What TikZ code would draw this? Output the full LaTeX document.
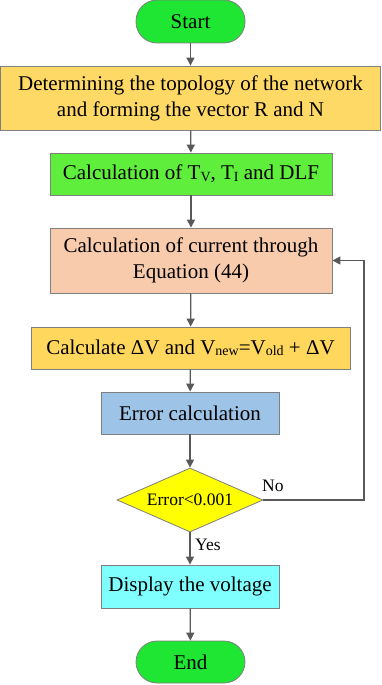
\documentclass[tikz,border=0pt]{standalone}
\usepackage{fontspec}
\setmainfont{Liberation Serif}
\usetikzlibrary{arrows.meta, shapes.geometric}
\definecolor{termgreen}{HTML}{1EE632}
\definecolor{stepgreen}{HTML}{5FEE3C}
\definecolor{topogold}{HTML}{FFD966}
\definecolor{currpink}{HTML}{F8CBAD}
\definecolor{dvgold}{HTML}{FFD75C}
\definecolor{errblue}{HTML}{9DC3E6}
\definecolor{decyellow}{HTML}{FFFF00}
\definecolor{dispcyan}{HTML}{80FFFF}
\definecolor{edgegray}{HTML}{7F7F7F}
\definecolor{flowgray}{HTML}{595959}
\newcommand{\lowsub}[1]{\raisebox{-1.5pt}{\fontsize{14}{14}\selectfont #1}}

\begin{document}
\begin{tikzpicture}[x=1pt, y=-1pt,
    box/.style={draw=edgegray, line width=0.8pt, inner sep=0pt, align=center,
        font=\fontsize{21}{26}\selectfont},
    term/.style={box, fill=termgreen, minimum width=109pt, rounded corners=21pt},
    flow/.style={draw=flowgray, line width=1.3pt, -{Triangle[length=8pt, width=8pt]}},
    lbl/.style={font=\fontsize{17.5}{20}\selectfont, inner sep=0pt}]
    \useasboundingbox (0,0) rectangle (381,685);

    % Main column
    \node[term, minimum height=43pt] (start) at (190.5,21.5) {Start};
    \node[box, fill=topogold, minimum width=380pt, minimum height=64pt] (topo) at (190.5,98)
        {Determining the topology of the network\\and forming the vector R and N};
    \node[box, fill=stepgreen, minimum width=282pt, minimum height=42pt] (tvti) at (191,174)
        {Calculation of T\lowsub{V}, T\lowsub{I} and DLF};
    \node[box, fill=currpink, minimum width=282pt, minimum height=65pt] (curr) at (191,260.5)
        {Calculation of current through\\Equation (44)};
    \node[box, fill=dvgold, minimum width=319pt, minimum height=42pt] (dv) at (190.5,348)
        {Calculate ΔV and V\lowsub{new}=V\lowsub{old} + ΔV};
    \node[box, fill=errblue, minimum width=178pt, minimum height=42pt] (err) at (190,413)
        {Error calculation};
    \node[box, diamond, aspect=2.3, fill=decyellow, minimum width=146pt, minimum height=64pt,
        font=\fontsize{17.5}{20}\selectfont] (dec) at (190,500) {Error<0.001};
    \node[box, fill=dispcyan, minimum width=178pt, minimum height=43pt] (disp) at (190,586.5)
        {Display the voltage};
    \node[term, minimum height=42pt] (stop) at (190.5,662) {End};

    % Connectors
    \draw[flow] (start) -- (topo);
    \draw[flow] (topo) -- (tvti);
    \draw[flow] (tvti) -- (curr);
    \draw[flow] (curr) -- (dv);
    \draw[flow] (dv) -- (err);
    \draw[flow] (err) -- (dec);
    \draw[flow] (dec) -- (disp);
    \draw[flow] (disp) -- (stop);

    % Loop back when not converged
    \coordinate (back) at (364,500);
    \draw[flow] (dec.east) -- (back) |- (curr.east);

    \node[lbl, anchor=west] (no) at (262,486) {No};
    \node[lbl, anchor=west] (yes) at (195,545) {Yes};
\end{tikzpicture}
\end{document}
